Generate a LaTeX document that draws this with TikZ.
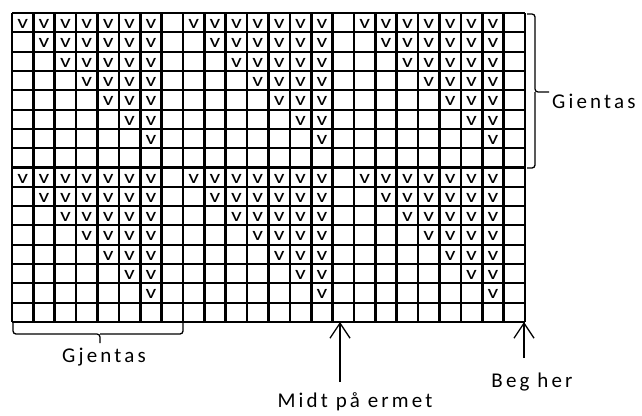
\documentclass[tikz,border=0pt]{standalone}
\usepackage{fontspec}
\setmainfont{Carlito}
\usetikzlibrary{arrows.meta, positioning}
\tikzset{
  every picture/.style={x=1pt, y=-1pt},
  vline/.style={line width=2.6pt},
  hline/.style={line width=2.1pt},
  stitch/.style={inner sep=0pt, anchor=base, font=\fontsize{19}{19}\selectfont},
  brace line/.style={line width=1.3pt, rounded corners=3pt},
  label text/.style={inner sep=0pt, font=\fontsize{21}{21}\selectfont\addfontfeatures{LetterSpace=15}},
  pointer/.style={line width=1.3pt, -{Straight Barb[length=15pt, width=20pt, line width=1.3pt]}}
}

\begin{document}
\begin{tikzpicture}
  \useasboundingbox (0,0) rectangle (642,415);
  % rutenett 24 x 16
  \foreach \r in {0,...,16}
    \draw[hline] (12,{13+\r*19.3125}) -- (525,{13+\r*19.3125});
  \foreach \c in {0,...,24}
    \draw[vline] ({12+\c*21.375},13) -- ({12+\c*21.375},322);
  % masker
  \foreach \b in {0,1,2}
    \foreach \k in {0,1}
      \foreach \r in {0,...,6}
        \foreach \c in {\r,...,6}
          \node[stitch] (v-\b-\k-\r-\c) at ({12+(8*\b+\c+0.5)*21.375},{13+(8*\k+\r)*19.3125+15.5}) {\scalebox{1.25}[1]{v}};
  % gjentas hoeyre
  \node[label text, anchor=base west] (gientas) at (552,108) {Gientas};
  \draw[brace line] (527,14) -| (535,92) -- ++(14,0);
  \draw[brace line] (527,168) -| (535,92);
  % gjentas under
  \node[label text, anchor=base] (gjentas) at (104,362) {Gjentas};
  \draw[brace line] (13,322) |- (100,334) -- (100,343);
  \draw[brace line] (183,322) |- (100,334);
  % piler
  \node[label text, anchor=base] (midt) at (355,407) {Midt på ermet};
  \node[label text, anchor=base] (beg) at (532,387) {Beg her};
  \coordinate (midt tail) at (340,382);
  \coordinate (midt tip) at (340,322);
  \coordinate (beg tail) at (524,358);
  \coordinate (beg tip) at (524,322);
  \draw[pointer] (midt tail) -- (midt tip);
  \draw[pointer] (beg tail) -- (beg tip);
\end{tikzpicture}
\end{document}
